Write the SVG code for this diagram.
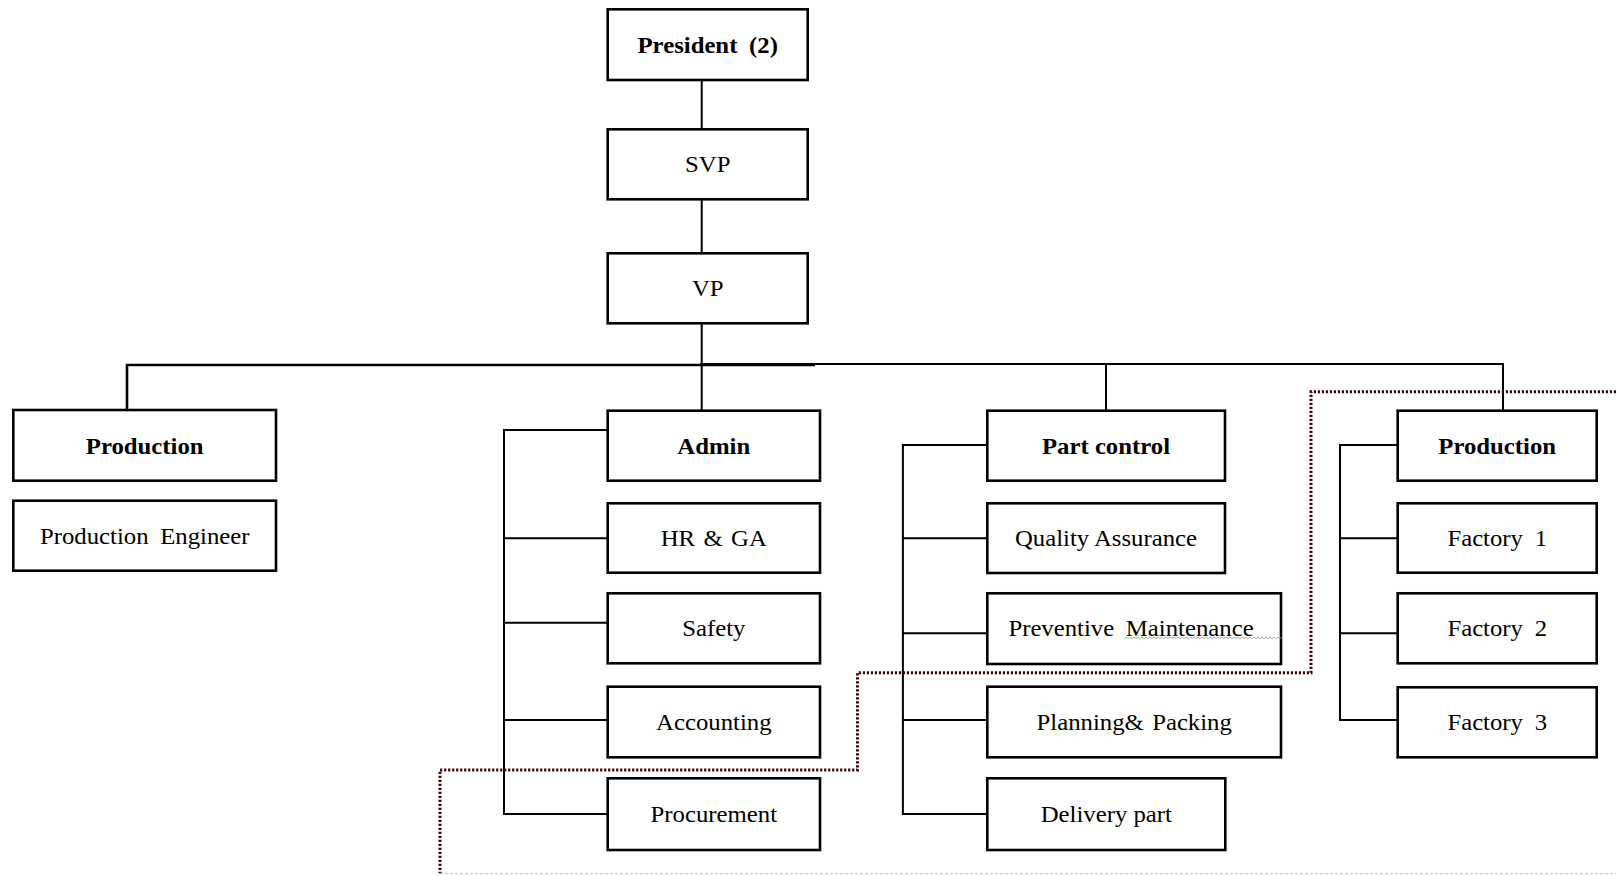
<svg xmlns="http://www.w3.org/2000/svg" width="1616" height="876" viewBox="0 0 1616 876">
  <style>
    .box { fill: #ffffff; stroke: #000000; stroke-width: 2.6; }
    .lbl { font-family: "Liberation Serif", "Times New Roman", serif; font-size: 22.5px; word-spacing: 0px; fill: #000000; text-anchor: middle; }
    .b { font-weight: bold; }
    .wide { word-spacing: 5px; }
    .wire { fill: none; stroke: #000000; stroke-width: 2; }
    .zone { fill: none; stroke: #3c0707; stroke-width: 3; stroke-dasharray: 2.2 1.8; }
    .faint { fill: none; stroke: #c4c4c4; stroke-width: 1.2; stroke-dasharray: 3 2; }
  </style>
  <rect width="1616" height="876" fill="#ffffff"/>

  <!-- reporting lines -->
  <g id="connectors">
    <path class="wire" d="M701.7 80 V129.3 M701.7 199.3 V253.3 M701.7 323.3 V410.7"/>
    <path class="wire" style="stroke-width:2.6" d="M127 410 V365 H815"/>
    <path class="wire" d="M700 364 H1503 V410.7 M1106 364 V410.7"/>
    <!-- Admin branch -->
    <path class="wire" d="M607.7 430 H504 V814 H607.7 M504 538.3 H607.7 M504 622.7 H607.7 M504 720 H607.7"/>
    <!-- Part control branch -->
    <path class="wire" d="M987.3 445 H902.9 V814 H987.3 M902.9 538.3 H987.3 M902.9 633.3 H987.3 M902.9 720 H987.3"/>
    <!-- Production branch -->
    <path class="wire" d="M1397.7 445 H1340 V720 H1397.7 M1340 538.3 H1397.7 M1340 633.3 H1397.7"/>
  </g>

  <!-- dotted zone boundary -->
  <g id="zone-boundary">
    <path class="zone" d="M1616 391.7 H1311 V672.7 H857.5 V770 H440 V873.3"/>
    <path class="faint" d="M440 873.5 H1616"/>
  </g>

  <!-- labels are widened 10% horizontally via scale(1.1 1) -->
  <g id="president"><rect class="box" x="607.7" y="9.3" width="200" height="70.7"/><text class="lbl b wide" transform="translate(707.7 52.5) scale(1.1 1)">President (2)</text></g>
  <g id="svp"><rect class="box" x="607.7" y="129.3" width="200" height="70"/><text class="lbl" transform="translate(707.7 172) scale(1.1 1)">SVP</text></g>
  <g id="vp"><rect class="box" x="607.7" y="253.3" width="200" height="70"/><text class="lbl" transform="translate(707.7 296) scale(1.1 1)">VP</text></g>

  <g id="production-left"><rect class="box" x="13.3" y="410" width="262.7" height="70.7"/><text class="lbl b" transform="translate(144.7 453.5) scale(1.1 1)">Production</text></g>
  <g id="production-engineer"><rect class="box" x="13.3" y="500.7" width="262.7" height="70"/><text class="lbl wide" transform="translate(144.7 543.5) scale(1.1 1)">Production Engineer</text></g>

  <g id="admin"><rect class="box" x="607.7" y="410.7" width="212.3" height="70"/><text class="lbl b" transform="translate(713.8 453.5) scale(1.1 1)">Admin</text></g>
  <g id="hr-ga"><rect class="box" x="607.7" y="503.3" width="212.3" height="69.4"/><text class="lbl" style="word-spacing:2px" transform="translate(713.8 546) scale(1.1 1)">HR &amp; GA</text></g>
  <g id="safety"><rect class="box" x="607.7" y="593.3" width="212.3" height="70"/><text class="lbl" transform="translate(713.8 636) scale(1.1 1)">Safety</text></g>
  <g id="accounting"><rect class="box" x="607.7" y="686.7" width="212.3" height="70.6"/><text class="lbl" transform="translate(713.8 730) scale(1.1 1)">Accounting</text></g>
  <g id="procurement"><rect class="box" x="607.7" y="778.3" width="212.3" height="71.7"/><text class="lbl" transform="translate(713.8 822) scale(1.1 1)">Procurement</text></g>

  <g id="part-control"><rect class="box" x="987.3" y="410.7" width="237.7" height="70"/><text class="lbl b" transform="translate(1106 453.5) scale(1.1 1)">Part control</text></g>
  <g id="quality-assurance"><rect class="box" x="987.3" y="503.3" width="237.7" height="69.7"/><text class="lbl" transform="translate(1106 546) scale(1.1 1)">Quality Assurance</text></g>
  <g id="preventive-maintenance"><rect class="box" x="987.3" y="593.3" width="293.7" height="70.7"/><text class="lbl wide" transform="translate(1131 636) scale(1.1 1)">Preventive Maintenance</text>
    <path d="M1124 638.5 l2 -1.2 l2 1.2 l2 -1.2 l2 1.2 l2 -1.2 l2 1.2 l2 -1.2 l2 1.2 l2 -1.2 l2 1.2 l2 -1.2 l2 1.2 l2 -1.2 l2 1.2 l2 -1.2 l2 1.2 l2 -1.2 l2 1.2 l2 -1.2 l2 1.2 l2 -1.2 l2 1.2 l2 -1.2 l2 1.2 l2 -1.2 l2 1.2 l2 -1.2 l2 1.2 l2 -1.2 l2 1.2 l2 -1.2 l2 1.2 l2 -1.2 l2 1.2 l2 -1.2 l2 1.2 l2 -1.2 l2 1.2 l2 -1.2 l2 1.2 l2 -1.2 l2 1.2 l2 -1.2 l2 1.2 l2 -1.2 l2 1.2 l2 -1.2 l2 1.2 l2 -1.2 l2 1.2 l2 -1.2 l2 1.2 l2 -1.2 l2 1.2 l2 -1.2 l2 1.2 l2 -1.2 l2 1.2 l2 -1.2 l2 1.2 l2 -1.2 l2 1.2 l2 -1.2 l2 1.2 l2 -1.2 l2 1.2 l2 -1.2 l2 1.2 l2 -1.2 l2 1.2 l2 -1.2 l2 1.2 l2 -1.2 l2 1.2 l2 -1.2 l2 1.2 l2 -1.2 l2 1.2 l2 -1.2" fill="none" stroke="#8aa08a" stroke-width="0.8"/></g>
  <g id="planning-packing"><rect class="box" x="987.3" y="686.7" width="293.7" height="70.6"/><text class="lbl" style="word-spacing:2px" transform="translate(1134.2 730) scale(1.1 1)">Planning&amp; Packing</text></g>
  <g id="delivery-part"><rect class="box" x="987.3" y="778.3" width="238" height="71.7"/><text class="lbl" transform="translate(1106.3 822) scale(1.1 1)">Delivery part</text></g>

  <g id="production-right"><rect class="box" x="1397.7" y="410.7" width="199" height="70"/><text class="lbl b" transform="translate(1497.2 453.5) scale(1.1 1)">Production</text></g>
  <g id="factory-1"><rect class="box" x="1397.7" y="503.3" width="199" height="69.4"/><text class="lbl wide" transform="translate(1497.2 546) scale(1.1 1)">Factory 1</text></g>
  <g id="factory-2"><rect class="box" x="1397.7" y="593.3" width="199" height="70"/><text class="lbl wide" transform="translate(1497.2 636) scale(1.1 1)">Factory 2</text></g>
  <g id="factory-3"><rect class="box" x="1397.7" y="687.3" width="199" height="70"/><text class="lbl wide" transform="translate(1497.2 730) scale(1.1 1)">Factory 3</text></g>
</svg>
